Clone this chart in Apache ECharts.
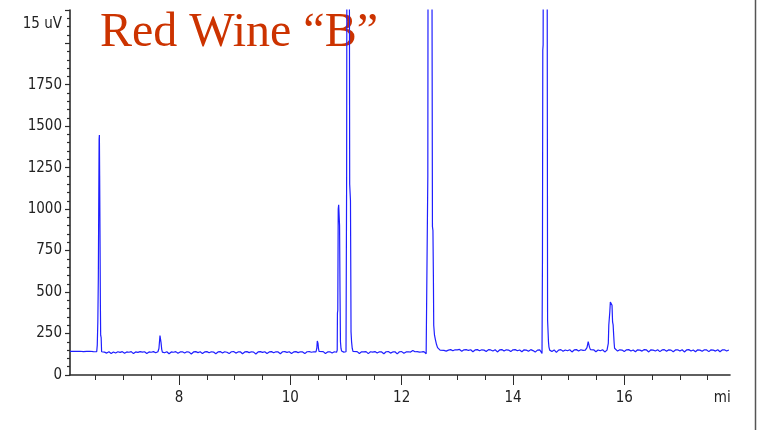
<!DOCTYPE html>
<html>
<head>
<meta charset="utf-8">
<title>Red Wine B chromatogram</title>
<script src="https://cdn.jsdelivr.net/npm/echarts@6/dist/echarts.min.js"></script>
<style>
  html, body { margin: 0; padding: 0; background: #ffffff; }
  #chart { width: 757px; height: 430px; }
</style>
</head>
<body>
<div id="chart"></div>
<script>
// Detector trace: [retention time (min), signal (uV)], split by region of the run.
const leadIn = [
  [6.04,142],[6.07,136],[6.10,143],[6.13,135],[6.16,142],[6.19,137],[6.22,143],[6.25,136],
  [6.28,141],[6.31,134],[6.34,142],[6.37,138],[6.40,143],[6.43,135],[6.46,141],[6.49,137],[6.52,140]
];
const peak1 = [
  [6.530,180],[6.540,320],[6.549,584],[6.556,1000],[6.563,1420],[6.568,1446],[6.573,1200],
  [6.580,795],[6.586,420],[6.591,240],[6.600,225],[6.608,140]
];
const gap1 = [
  [6.62,128],[6.66,138],[6.70,132],[6.74,140],[6.78,130],[6.82,139],[6.86,133],[6.90,140],
  [6.94,136],[6.98,141],[7.02,131],[7.06,139],[7.10,137],[7.14,141],[7.18,129],[7.22,139],
  [7.26,136],[7.30,141],[7.34,138],[7.38,140],[7.42,130],[7.46,139],[7.50,137],[7.54,141],
  [7.58,134],[7.62,140]
];
const peak2 = [
  [7.638,160],[7.648,200],[7.657,238],[7.666,240],[7.676,195],[7.688,155],[7.70,138]
];
const gap2 = [
  [7.74,134],[7.78,140],[7.82,128],[7.86,139],[7.90,137],[7.94,141],[7.98,131],[8.02,139],
  [8.06,140],[8.10,133],[8.14,140],[8.18,138],[8.22,127],[8.26,139],[8.30,141],[8.34,135],
  [8.38,140],[8.42,129],[8.46,139],[8.50,141],[8.54,134],[8.58,140],[8.62,138],[8.66,128],
  [8.70,139],[8.74,141],[8.78,133],[8.82,140],[8.86,137],[8.90,129],[8.94,140],[8.98,141],
  [9.02,132],[9.06,139],[9.10,140],[9.14,128],[9.18,139],[9.22,141],[9.26,135],[9.30,140],
  [9.34,138],[9.38,127],[9.42,139],[9.46,141],[9.50,136],[9.54,140],[9.58,130],[9.62,139],
  [9.66,141],[9.70,134],[9.74,140],[9.78,139],[9.82,128],[9.86,140],[9.90,141],[9.94,136],
  [9.98,140],[10.02,130],[10.06,139],[10.10,141],[10.14,135],[10.18,140],[10.22,139],
  [10.26,129],[10.30,140],[10.34,141],[10.38,137],[10.42,140],[10.46,139]
];
const peak3 = [
  [10.475,160],[10.484,205],[10.490,215],[10.497,190],[10.505,160],[10.515,142]
];
const gap3 = [
  [10.55,138],[10.59,141],[10.63,130],[10.67,139],[10.71,140],[10.75,133],[10.79,140],[10.83,137]
];
const peak4 = [
  [10.842,150],[10.846,374],[10.852,390],[10.860,1000],[10.868,1026],[10.876,1020],
  [10.884,900],[10.892,500],[10.900,200],[10.910,160],[10.920,145],
  [10.94,141],[10.96,138],[10.98,142],[11.000,140]
];
const peak5 = [
  [11.006,150],[11.011,1200],[11.016,2600],[11.030,3400],[11.050,3300],[11.060,2500],
  [11.066,1150],[11.080,1050],[11.086,600],[11.090,260],[11.100,200],[11.112,160],[11.125,142]
];
const gap4 = [
  [11.16,138],[11.20,141],[11.24,130],[11.28,140],[11.32,139],[11.36,141],[11.40,129],
  [11.44,140],[11.48,138],[11.52,141],[11.56,133],[11.60,140],[11.64,139],[11.68,128],
  [11.72,140],[11.76,141],[11.80,132],[11.84,139],[11.88,140],[11.92,127],[11.96,140],
  [12.00,141],[12.04,131],[12.08,139],[12.12,140],[12.16,138],[12.20,148],[12.24,140],
  [12.28,141],[12.32,138],[12.36,139],[12.40,141],[12.44,128]
];
const peak6 = [
  [12.447,118],[12.462,128],[12.470,1200],[12.476,3200],[12.500,3500],[12.540,3200],
  [12.548,1800],[12.553,894],[12.562,870],[12.570,600],[12.576,300],[12.590,240],
  [12.605,215],[12.625,185],[12.645,165],[12.665,157],[12.690,150],[12.72,146],[12.76,148]
];
const gap5 = [
  [12.80,144],[12.84,150],[12.88,153],[12.92,146],[12.96,152],[13.00,151],[13.04,154],
  [13.08,143],[13.12,152],[13.16,153],[13.20,148],[13.24,152],[13.28,140],[13.32,151],
  [13.36,153],[13.40,146],[13.44,152],[13.48,150],[13.52,142],[13.56,153],[13.60,151],
  [13.64,145],[13.68,152],[13.72,139],[13.76,151],[13.80,153],[13.84,144],[13.88,152],
  [13.92,150],[13.96,141],[14.00,152],[14.04,153],[14.08,146],[14.12,151],[14.16,140],
  [14.20,152],[14.24,150],[14.28,143],[14.32,153],[14.36,147],[14.40,138],[14.44,150],
  [14.48,152],[14.51,140]
];
const peak7 = [
  [14.522,130],[14.530,700],[14.536,1958],[14.542,1990],[14.548,3200],[14.580,3500],
  [14.612,3200],[14.618,1500],[14.622,331],[14.632,320],[14.638,200],[14.646,170],[14.660,150]
];
const gap6 = [
  [14.70,142],[14.74,151],[14.78,136],[14.82,150],[14.86,153],[14.90,143],[14.94,151],
  [14.98,146],[15.02,152],[15.06,139],[15.10,151],[15.14,153],[15.18,145],[15.22,152],
  [15.26,148],[15.30,150]
];
const peak8 = [
  [15.330,165],[15.342,185],[15.352,201],[15.362,192],[15.375,168],[15.392,153]
];
const gap7 = [
  [15.41,145],[15.45,152],[15.49,140],[15.53,151],[15.57,146],[15.61,152],[15.65,139],[15.69,150]
];
const peak9 = [
  [15.705,160],[15.713,190],[15.722,300],[15.731,312],[15.740,380],[15.750,440],[15.761,452],
  [15.770,440],[15.780,420],[15.790,320],[15.800,302],[15.810,240],[15.818,193],[15.826,161],
  [15.840,150]
];
const tailOut = [
  [15.88,144],[15.92,152],[15.96,150],[16.00,141],[16.04,152],[16.08,153],[16.12,145],
  [16.16,151],[16.20,140],[16.24,152],[16.28,150],[16.32,144],[16.36,153],[16.40,151],
  [16.44,139],[16.48,152],[16.52,150],[16.56,145],[16.60,152],[16.64,141],[16.68,151],
  [16.72,153],[16.76,143],[16.80,152],[16.84,150],[16.88,140],[16.92,151],[16.96,152],
  [17.00,144],[17.04,152],[17.08,139],[17.12,151],[17.16,153],[17.20,145],[17.24,151],
  [17.28,140],[17.32,152],[17.36,150],[17.40,143],[17.44,152],[17.48,151],[17.52,141],
  [17.56,152],[17.60,150],[17.64,144],[17.68,152],[17.72,140],[17.76,151],[17.80,152],
  [17.84,145],[17.88,151]
];

// Axis tick marks and labels
const timeLabels = [8, 10, 12, 14, 16];
const timeUnit = 'mi';
const timeTicks = [6.5, 7, 7.5, 8, 8.5, 9, 9.5, 10, 10.5, 11, 11.5, 12, 12.5, 13, 13.5, 14,
                   14.5, 15, 15.5, 16, 16.5, 17, 17.5];
const signalLabels = [0, 250, 500, 750, 1000, 1250, 1500, 1750];
const signalUnit = '15 uV';
const signalMajorTicks = [0, 250, 500, 750, 1000, 1250, 1500, 1750, 2000, 2200];
const signalMinorTicks = [50, 100, 150, 200, 300, 350, 400, 450, 550, 600, 650, 700, 800, 850,
                          900, 950, 1050, 1100, 1150, 1200, 1300, 1350, 1400, 1450, 1550, 1600,
                          1650, 1700, 1800, 1850, 1900, 1950, 2050, 2100, 2150];
const chartTitle = 'Red Wine \u201CB\u201D';

const trace = [].concat(leadIn, peak1, gap1, peak2, gap2, peak3, gap3, peak4, peak5,
                        gap4, peak6, gap5, peak7, gap6, peak8, gap7, peak9, tailOut);

const TIME_MIN = 6.04, TIME_MAX = 17.9;
const SIG_MAX = 2200;
const UNIT_LABEL_POS_X = 17.76;   // where the truncated time unit sits
const UNIT_LABEL_POS_Y = 2115;    // where the signal unit sits

const axisColor = '#2b2b2b';
const labelFont = '"Liberation Sans Narrow", "DejaVu Sans Condensed", sans-serif';

const chart = echarts.init(document.getElementById('chart'), null, { renderer: 'canvas' });

chart.setOption({
  animation: false,
  backgroundColor: '#ffffff',
  grid: { left: 70, right: 27, top: 10, bottom: 55, containLabel: false },
  xAxis: [
    {
      type: 'value', min: TIME_MIN, max: TIME_MAX, position: 'bottom',
      axisLine: { show: true, onZero: false, lineStyle: { color: axisColor, width: 1.6 } },
      axisTick: { show: true, customValues: timeTicks, length: 5, lineStyle: { color: axisColor, width: 1 } },
      axisLabel: {
        show: true, customValues: timeLabels.concat([UNIT_LABEL_POS_X]), margin: 16,
        fontFamily: labelFont, fontSize: 15, color: '#222',
        formatter: v => (v > 17 ? timeUnit : String(v))
      },
      splitLine: { show: false }
    },
    {
      type: 'value', min: TIME_MIN, max: TIME_MAX, position: 'bottom', gridIndex: 0,
      axisLine: { show: false, onZero: false },
      axisTick: { show: true, customValues: timeLabels, length: 10, lineStyle: { color: axisColor, width: 1 } },
      axisLabel: { show: false },
      splitLine: { show: false }
    }
  ],
  yAxis: [
    {
      type: 'value', min: 0, max: SIG_MAX, position: 'left',
      axisLine: { show: true, onZero: false, lineStyle: { color: axisColor, width: 1.6 } },
      axisTick: { show: true, customValues: signalMajorTicks, length: 5, lineStyle: { color: axisColor, width: 1.2 } },
      axisLabel: {
        show: true, customValues: signalLabels.concat([UNIT_LABEL_POS_Y]), margin: 8,
        fontFamily: labelFont, fontSize: 15, color: '#222',
        formatter: v => (v > 2000 ? signalUnit : String(v))
      },
      splitLine: { show: false }
    },
    {
      type: 'value', min: 0, max: SIG_MAX, position: 'left', gridIndex: 0,
      axisLine: { show: false, onZero: false },
      axisTick: { show: true, customValues: signalMinorTicks, length: 3, lineStyle: { color: axisColor, width: 1.2 } },
      axisLabel: { show: false },
      splitLine: { show: false }
    }
  ],
  graphic: [
    {
      type: 'text', z: 0, left: 100, top: 9,
      style: { text: chartTitle, font: '48px "Liberation Serif", "Times New Roman", serif', fill: '#cc3300' }
    },
    {
      type: 'line', z: 10,
      shape: { x1: 755.5, y1: 0, x2: 755.5, y2: 430 },
      style: { stroke: '#555555', lineWidth: 1.5 }
    }
  ],
  series: [
    {
      type: 'line', xAxisIndex: 0, yAxisIndex: 0, z: 5,
      data: trace, showSymbol: false, symbol: 'none', clip: true, sampling: false,
      lineStyle: { color: '#1f1fff', width: 1.2 },
      emphasis: { disabled: true }
    }
  ]
});
</script>
</body>
</html>
